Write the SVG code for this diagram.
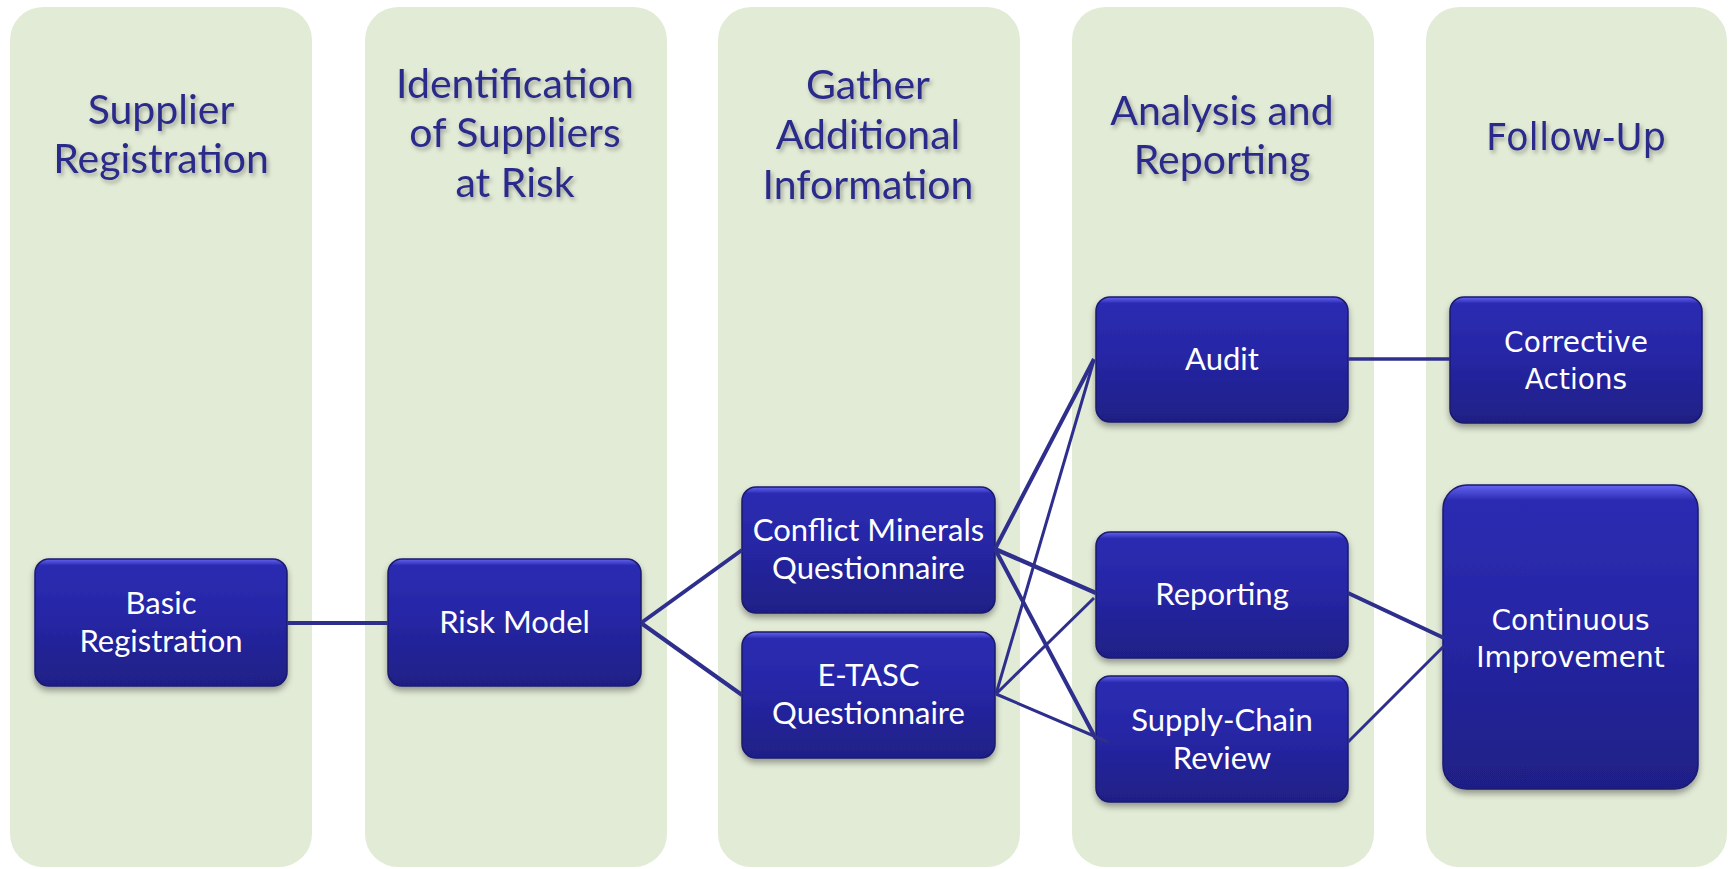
<svg xmlns="http://www.w3.org/2000/svg" width="1733" height="869" viewBox="0 0 1733 869">
<defs>
<linearGradient id="boxg" x1="0" y1="0" x2="0" y2="1">
<stop offset="0" stop-color="#6464f2"/>
<stop offset="0.05" stop-color="#2c2cb2"/>
<stop offset="0.45" stop-color="#2626a6"/>
<stop offset="1" stop-color="#1f1f86"/>
</linearGradient>
<filter id="sh" x="-10%" y="-10%" width="120%" height="130%">
<feDropShadow dx="0" dy="4" stdDeviation="3" flood-color="#000" flood-opacity="0.35"/>
</filter>
<filter id="tsh" x="-10%" y="-20%" width="120%" height="150%">
<feDropShadow dx="2" dy="3" stdDeviation="2" flood-color="#000" flood-opacity="0.3"/>
</filter>
<filter id="csh" x="-5%" y="-5%" width="110%" height="110%">
<feGaussianBlur stdDeviation="2"/>
</filter>
</defs>
<style>
.col{fill:#e2ebd6;}
.box{fill:url(#boxg);stroke:#1a1a6e;stroke-width:1.5;filter:url(#sh);}
.title{font-family:Lato,"Liberation Sans",sans-serif;font-size:41px;fill:#2b2b8a;text-anchor:middle;filter:url(#tsh);}
.title2{font-family:"DejaVu Sans",Verdana,sans-serif;font-size:37px;fill:#2b2b8a;text-anchor:middle;filter:url(#tsh);}
.lbl{font-family:Lato,"Liberation Sans",sans-serif;font-size:31px;fill:#ffffff;text-anchor:middle;}
.lbl2{font-family:"DejaVu Sans",Verdana,sans-serif;font-size:28px;fill:#ffffff;text-anchor:middle;}
.con{stroke:#2e2e8c;fill:none;stroke-linecap:butt;}
</style>
<rect width="1733" height="869" fill="#ffffff"/>
<g id="columns">
<rect class="col" x="10" y="7" width="302" height="860" rx="33"/>
<rect class="col" x="365" y="7" width="302" height="860" rx="33"/>
<rect class="col" x="718" y="7" width="302" height="860" rx="33"/>
<rect class="col" x="1072" y="7" width="302" height="860" rx="33"/>
<rect class="col" x="1426" y="7" width="301" height="860" rx="33"/>
</g>
<g id="titles">
<text class="title" x="161" y="124">Supplier</text>
<text class="title" x="161" y="173">Registration</text>
<text class="title" x="515" y="98">Identification</text>
<text class="title" x="515" y="147">of Suppliers</text>
<text class="title" x="515" y="197">at Risk</text>
<text class="title" x="868" y="99">Gather</text>
<text class="title" x="868" y="149">Additional</text>
<text class="title" x="868" y="199">Information</text>
<text class="title" x="1222" y="125">Analysis and</text>
<text class="title" x="1222" y="174">Reporting</text>
<text class="title2" x="1576" y="150">Follow-Up</text>
</g>
<g id="n-basic">
<rect class="box" x="35" y="559" width="252" height="127" rx="14"/>
<text class="lbl" x="161" y="614">Basic</text>
<text class="lbl" x="161" y="652">Registration</text>
</g>
<g id="n-risk">
<rect class="box" x="388" y="559" width="253" height="127" rx="14"/>
<text class="lbl" x="514.5" y="633">Risk Model</text>
</g>
<g id="n-cm">
<rect class="box" x="742" y="487" width="253" height="126" rx="14"/>
<text class="lbl" x="868.5" y="541">Conflict Minerals</text>
<text class="lbl" x="868.5" y="579">Questionnaire</text>
</g>
<g id="n-etasc">
<rect class="box" x="742" y="632" width="253" height="126" rx="14"/>
<text class="lbl" x="868.5" y="686">E-TASC</text>
<text class="lbl" x="868.5" y="724">Questionnaire</text>
</g>
<g id="n-audit">
<rect class="box" x="1096" y="297" width="252" height="125" rx="14"/>
<text class="lbl" x="1222" y="370">Audit</text>
</g>
<g id="n-reporting">
<rect class="box" x="1096" y="532" width="252" height="126" rx="14"/>
<text class="lbl" x="1222" y="605">Reporting</text>
</g>
<g id="n-supply">
<rect class="box" x="1096" y="676" width="252" height="126" rx="14"/>
<text class="lbl" x="1222" y="731">Supply-Chain</text>
<text class="lbl" x="1222" y="769">Review</text>
</g>
<g id="n-corrective">
<rect class="box" x="1450" y="297" width="252" height="126" rx="14"/>
<text class="lbl2" x="1576" y="352">Corrective</text>
<text class="lbl2" x="1576" y="389">Actions</text>
</g>
<g id="n-continuous">
<rect class="box" x="1443" y="485" width="255" height="304" rx="24"/>
<text class="lbl2" x="1570.5" y="630">Continuous</text>
<text class="lbl2" x="1570.5" y="667">Improvement</text>
</g>
<g id="connectors">
<line class="con" stroke-width="4" x1="287" y1="623" x2="388" y2="623"/>
<line class="con" stroke-width="4" x1="641" y1="623" x2="742" y2="550"/>
<line class="con" stroke-width="4" x1="641" y1="623" x2="742" y2="695"/>
<line class="con" stroke-width="4" x1="995" y1="549" x2="1094" y2="359"/>
<line class="con" stroke-width="4.5" x1="995" y1="549" x2="1096" y2="593"/>
<line class="con" stroke-width="4" x1="995" y1="549" x2="1096" y2="739"/>
<line class="con" stroke-width="3" x1="996" y1="694" x2="1094" y2="360"/>
<line class="con" stroke-width="3" x1="996" y1="694" x2="1094" y2="598"/>
<line class="con" stroke-width="3" x1="996" y1="694" x2="1108" y2="742"/>
<line class="con" stroke-width="3.5" x1="1348" y1="359" x2="1450" y2="359"/>
<line class="con" stroke-width="4" x1="1348" y1="593" x2="1444" y2="638"/>
<line class="con" stroke-width="3" x1="1348" y1="742" x2="1444" y2="646"/>
</g>
</svg>
